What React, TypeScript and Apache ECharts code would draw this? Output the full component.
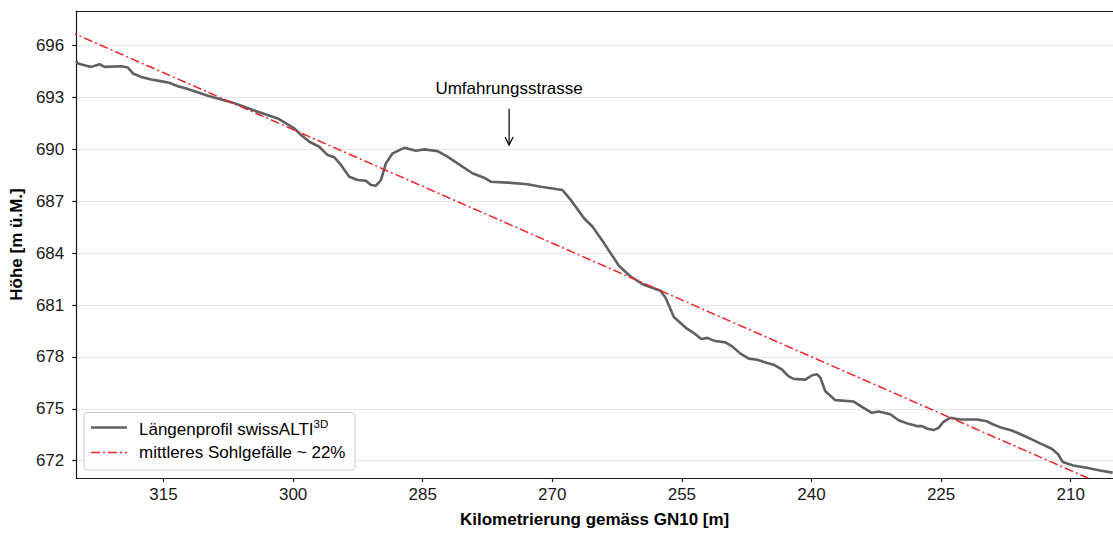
import React, { useEffect, useRef } from "react";
import * as echarts from "echarts";

// Longitudinal profile (km along GN10 in m, height in m a.s.l.)
const profileKm = [
  325.09, 324.9, 323.94, 323.36, 322.4, 321.82, 319.89, 319.12, 318.54, 317.58,
  316.42, 315.5, 314.34, 313.34, 312.38, 311.22, 309.87, 308.33, 307.17, 305.67,
  304.09, 302.55, 301.78, 300.82, 299.86, 299.08, 298.12, 296.97, 296.0, 295.23,
  294.46, 293.5, 292.53, 291.57, 290.99, 290.41, 289.83, 289.26, 288.48, 287.14,
  285.79, 284.83, 283.28, 282.13, 280.97, 279.24, 277.9, 277.12, 275.19, 272.88,
  271.34, 268.83, 267.87, 266.33, 265.36, 264.02, 262.29, 260.94, 259.4, 257.47,
  256.89, 255.93, 255.35, 254.38, 253.62, 252.76, 252.07, 251.31, 249.96, 249.18,
  248.22, 247.26, 246.29, 245.13, 244.37, 243.4, 242.64, 242.06, 240.71, 239.93,
  239.36, 238.97, 238.4, 237.24, 235.12, 234.16, 233.0, 232.24, 230.88, 229.92,
  228.77, 227.8, 227.22, 226.64, 225.88, 225.3, 224.72, 223.95, 222.79, 220.86,
  219.71, 218.94, 217.97, 216.82, 215.47, 214.5, 213.54, 212.19, 211.43, 210.92,
  209.7, 208.15, 206.61, 205.14,
];
const profileHeight = [
  695.1, 694.96, 694.83, 694.77, 694.92, 694.77, 694.81, 694.73, 694.39, 694.19,
  694.04, 693.96, 693.85, 693.65, 693.52, 693.33, 693.1, 692.89, 692.73, 692.46,
  692.17, 691.92, 691.79, 691.5, 691.21, 690.83, 690.44, 690.15, 689.67, 689.54,
  689.1, 688.42, 688.23, 688.19, 687.94, 687.9, 688.23, 689.19, 689.77, 690.09,
  689.92, 690.0, 689.9, 689.58, 689.19, 688.62, 688.36, 688.13, 688.08, 687.98,
  687.84, 687.65, 687.08, 686.02, 685.54, 684.58, 683.27, 682.65, 682.17, 681.83,
  681.42, 680.31, 680.05, 679.62, 679.39, 679.04, 679.1, 678.94, 678.84, 678.61,
  678.19, 677.9, 677.84, 677.65, 677.55, 677.26, 676.88, 676.73, 676.69, 676.94,
  677.0, 676.8, 676.01, 675.5, 675.42, 675.11, 674.77, 674.84, 674.69, 674.34,
  674.13, 674.0, 674.0, 673.86, 673.77, 673.9, 674.25, 674.48, 674.38, 674.38,
  674.28, 674.09, 673.9, 673.75, 673.46, 673.23, 673.0, 672.69, 672.36, 671.92,
  671.72, 671.59, 671.43, 671.31,
];

// Mean bed slope (~22 %)
const slopeKm = [326, 204];
const slopeHeight = [696.84, 670.12];

const xTicks = [315, 300, 285, 270, 255, 240, 225, 210];
const yTicks = [672, 675, 678, 681, 684, 687, 690, 693, 696];

const annotationLabel = "Umfahrungsstrasse";
const annotationKm = 275;
const annotationTextHeight = 693.54;
const annotationArrowFrom = 692.35;
const annotationArrowTo = 690.25;

const profileName = "Längenprofil swissALTI3D";
const slopeName = "mittleres Sohlgefälle ~ 22%";

const FONT = "'Liberation Sans', Arial, Helvetica, sans-serif";
const FS = 17;
const GRAY = "#606060";
const RED = "#e8262a";
const DASHDOT = [9, 3, 2, 3];

export default function App() {
  const ref = useRef<HTMLDivElement>(null);

  useEffect(() => {
    const chart = echarts.init(ref.current!, null, { renderer: "svg" });
    const profileData = profileKm.map((k, i) => [k, profileHeight[i]]);
    const slopeData = slopeKm.map((k, i) => [k, slopeHeight[i]]);

    chart.setOption({
      animation: false,
      backgroundColor: "#ffffff",
      grid: { left: 75, top: 11, right: 0, bottom: 55, containLabel: false },
      xAxis: [
        {
          type: "value",
          inverse: true,
          min: 205.1,
          max: 325.1,
          name: "Kilometrierung gemäss GN10 [m]",
          nameLocation: "middle",
          nameGap: 33,
          nameTextStyle: { fontFamily: FONT, fontSize: FS, fontWeight: "bold", color: "#000" },
          axisLine: { show: true, onZero: false, lineStyle: { color: "#1a1a1a", width: 1.2 } },
          axisTick: { show: true, customValues: xTicks, length: 4, lineStyle: { color: "#1a1a1a", width: 1.2 } },
          axisLabel: { customValues: xTicks, margin: 8, fontFamily: FONT, fontSize: FS, color: "#1a1a1a" },
          splitLine: { show: false },
        },
        {
          type: "value",
          position: "top",
          inverse: true,
          min: 205.1,
          max: 325.1,
          axisLine: { show: true, onZero: false, lineStyle: { color: "#1a1a1a", width: 1.2 } },
          axisTick: { show: false },
          axisLabel: { show: false },
          splitLine: { show: false },
        },
      ],
      yAxis: {
        type: "value",
        min: 671,
        max: 698,
        name: "Höhe [m ü.M.]",
        nameLocation: "middle",
        nameGap: 50,
        nameTextStyle: { fontFamily: FONT, fontSize: FS, fontWeight: "bold", color: "#000" },
        axisLine: { show: true, onZero: false, lineStyle: { color: "#1a1a1a", width: 1.2 } },
        axisTick: { show: true, customValues: yTicks, length: 4, lineStyle: { color: "#1a1a1a", width: 1.2 } },
        axisLabel: { customValues: yTicks, margin: 12, fontFamily: FONT, fontSize: FS, color: "#1a1a1a" },
        splitLine: { show: true, lineStyle: { color: "#e6e6e6", width: 1.2 } },
      },
      series: [
        {
          name: profileName,
          type: "line",
          xAxisIndex: 0,
          yAxisIndex: 0,
          data: profileData,
          symbol: "none",
          smooth: false,
          lineStyle: { color: GRAY, width: 2.6 },
          z: 3,
        },
        {
          name: slopeName,
          type: "line",
          xAxisIndex: 0,
          yAxisIndex: 0,
          data: slopeData,
          symbol: "none",
          lineStyle: { color: RED, width: 1.5, type: DASHDOT },
          z: 4,
        },
      ],
    });

    const tp = chart.convertToPixel({ xAxisIndex: 0, yAxisIndex: 0 }, [annotationKm, annotationTextHeight]);
    const a0 = chart.convertToPixel({ xAxisIndex: 0, yAxisIndex: 0 }, [annotationKm, annotationArrowFrom]);
    const a1 = chart.convertToPixel({ xAxisIndex: 0, yAxisIndex: 0 }, [annotationKm, annotationArrowTo]);

    const lx = 84;
    const ly = 412.5;
    chart.setOption({
      graphic: [
        {
          type: "text",
          z: 10,
          style: {
            text: annotationLabel,
            x: tp[0],
            y: tp[1],
            align: "center",
            verticalAlign: "middle",
            fontFamily: FONT,
            fontSize: FS,
            fill: "#000",
          },
        },
        {
          type: "line",
          z: 10,
          shape: { x1: a0[0], y1: a0[1], x2: a1[0], y2: a1[1] },
          style: { stroke: "#000", lineWidth: 1.2 },
        },
        {
          type: "polyline",
          z: 10,
          shape: { points: [[a1[0] - 4, a1[1] - 8], [a1[0], a1[1]], [a1[0] + 4, a1[1] - 8]] },
          style: { stroke: "#000", lineWidth: 1.2, fill: null },
        },
        {
          type: "rect",
          z: 20,
          shape: { x: lx, y: ly, width: 271, height: 57.5, r: 3 },
          style: { fill: "rgba(255,255,255,0.85)", stroke: "#cccccc", lineWidth: 1 },
        },
        {
          type: "line",
          z: 21,
          shape: { x1: lx + 7, y1: ly + 15, x2: lx + 43, y2: ly + 15 },
          style: { stroke: GRAY, lineWidth: 2.6 },
        },
        {
          type: "text",
          z: 21,
          style: {
            text: "{a|Längenprofil swissALTI}{s|3D}",
            x: lx + 55,
            y: ly + 15.5,
            verticalAlign: "middle",
            rich: {
              a: { fontFamily: FONT, fontSize: FS, fill: "#000", lineHeight: 20, verticalAlign: "bottom" },
              s: { fontFamily: FONT, fontSize: 11.5, fill: "#000", lineHeight: 20, verticalAlign: "top" },
            },
          },
        },
        {
          type: "line",
          z: 21,
          shape: { x1: lx + 7, y1: ly + 40, x2: lx + 43, y2: ly + 40 },
          style: { stroke: RED, lineWidth: 1.5, lineDash: DASHDOT },
        },
        {
          type: "text",
          z: 21,
          style: {
            text: slopeName,
            x: lx + 55,
            y: ly + 40,
            verticalAlign: "middle",
            fontFamily: FONT,
            fontSize: FS,
            fill: "#000",
          },
        },
      ],
    });

    return () => chart.dispose();
  }, []);

  return (
    <div
      ref={ref}
      style={{ position: "fixed", left: 0, top: 0, width: 1113, height: 533, background: "#fff" }}
    />
  );
}
